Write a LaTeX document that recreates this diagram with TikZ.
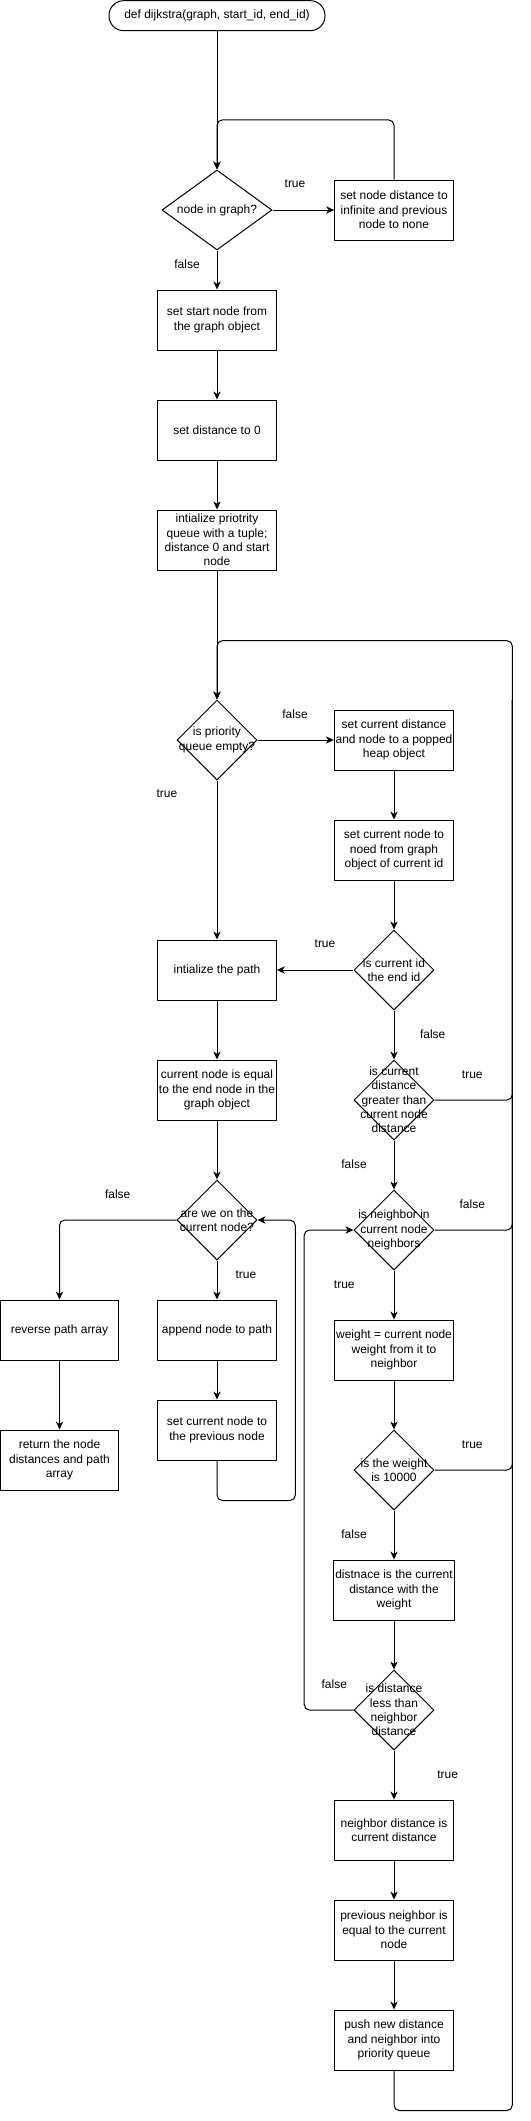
\documentclass[tikz,border=0pt]{standalone}
\usepackage{fontspec}
\setmainfont{Liberation Sans}
\usetikzlibrary{arrows.meta,shapes.geometric,positioning}

\tikzset{
  base/.style={draw=black, line width=0.75pt, font=\fontsize{9}{10.75}\selectfont, align=center, inner sep=1pt},
  process/.style={base, rectangle, minimum width=89pt, minimum height=45pt},
  decision/.style={base, diamond, minimum width=60pt, minimum height=60pt, inner sep=0pt},
  terminal/.style={base, rectangle, rounded corners=11pt, minimum width=162pt, minimum height=22.5pt},
  flow/.style={line width=0.75pt, rounded corners=4pt, -{Stealth[length=6pt,width=5.5pt,inset=1.8pt]}},
  rail/.style={line width=0.75pt, rounded corners=4pt},
  lbl/.style={font=\fontsize{9}{10.75}\selectfont, align=center}
}

\begin{document}
\begin{tikzpicture}[x=0.75pt,y=-0.75pt]
            \path[fill=white] (0,0) rectangle (531,2121);
            \useasboundingbox (0,0) rectangle (531,2121);
            % left column
            \node[terminal] (start) at (217,15.7) {def dijkstra(graph, start\_id, end\_id)};
            \node[decision, minimum width=82.5pt, label={[lbl]center:node in graph?}] (ingraph) at (217,210) {};
            \node[process] (setinf) at (394,210) {set node distance to\\infinite and previous\\node to none};
            \node[process] (startnode) at (217,320) {set start node from\\the graph object};
            \node[process] (dist0) at (217,430) {set distance to 0};
            \node[process] (initpq) at (217,540) {intialize priotrity\\queue with a tuple;\\distance 0 and start\\node};
            \node[decision, label={[lbl]center:{is priority\\queue empty?}}] (pqempty) at (217,740) {};
            \node[process] (initpath) at (217,970) {intialize the path};
            \node[process] (curend) at (217,1090) {current node is equal\\to the end node in the\\graph object};
            \node[decision, label={[lbl]center:{are we on the\\current node?}}] (onnode) at (217,1220) {};
            \node[process] (revpath) at (59.5,1330) {reverse path array};
            \node[process] (append) at (217,1330) {append node to path};
            \node[process] (retnode) at (59.5,1460) {return the node\\distances and path\\array};
            \node[process] (setprev) at (217,1430) {set current node to\\the previous node};
            % right column
            \node[process] (popped) at (394,740) {set current distance\\and node to a popped\\heap object};
            \node[process] (curnode) at (394,850) {set current node to\\noed from graph\\object of current id};
            \node[decision, label={[lbl]center:{is current id\\the end id}}] (isend) at (394,970) {};
            \node[decision, label={[lbl]center:{is current\\distance\\greater than\\current node\\distance}}] (greater) at (394,1100) {};
            \node[decision, label={[lbl]center:{is neighbor in\\current node\\neighbors}}] (neighbor) at (394,1230) {};
            \node[process] (weight) at (394,1350) {weight = current node\\weight from it to\\neighbor};
            \node[decision, label={[lbl]center:{is the weight\\is 10000}}] (w10000) at (394,1470) {};
            \node[process] (distw) at (394,1590) {distnace is the current\\distance with the\\weight};
            \node[decision, label={[lbl]center:{is distance\\less than\\neighbor\\distance}}] (less) at (394,1710) {};
            \node[process] (nbdist) at (394,1830) {neighbor distance is\\current distance};
            \node[process] (prevnb) at (394,1930) {previous neighbor is\\equal to the current\\node};
            \node[process] (push) at (394,2040) {push new distance\\and neighbor into\\priority queue};
            \coordinate (railtop) at (512.3,640.7);
            \coordinate (railjoin) at (512.3,700);
            % branch labels
            \node[lbl] (tIn) at (295,184) {true};
            \node[lbl] (fIn) at (187,264) {false};
            \node[lbl] (fPq) at (295,714) {false};
            \node[lbl] (tPq) at (167,794) {true};
            \node[lbl] (tEnd) at (325,944) {true};
            \node[lbl] (fEnd) at (432.7,1034.3) {false};
            \node[lbl] (tGr) at (472.3,1074.3) {true};
            \node[lbl] (fGr) at (354,1164.3) {false};
            \node[lbl] (fOn) at (117.7,1194.3) {false};
            \node[lbl] (tOn) at (246,1274.3) {true};
            \node[lbl] (fNb) at (472.3,1204.3) {false};
            \node[lbl] (tNb) at (344.3,1284.3) {true};
            \node[lbl] (tW) at (472.3,1444.3) {true};
            \node[lbl] (fW) at (354,1534.3) {false};
            \node[lbl] (fLess) at (334.3,1684.3) {false};
            \node[lbl] (tLess) at (447.7,1774.3) {true};
            % connectors
            \draw[flow] (start) -- (ingraph);
            \draw[flow] (setinf.north) -- ++(0,-59.6) -| (ingraph.north);
            \draw[flow] (ingraph) -- (setinf);
            \draw[flow] (ingraph) -- (startnode);
            \draw[flow] (startnode) -- (dist0);
            \draw[flow] (dist0) -- (initpq);
            \draw[flow] (initpq) -- (pqempty);
            \draw[flow] (pqempty) -- (popped);
            \draw[flow] (popped) -- (curnode);
            \draw[flow] (curnode) -- (isend);
            \draw[flow] (pqempty) -- (initpath);
            \draw[flow] (isend) -- (initpath);
            \draw[flow] (isend) -- (greater);
            \draw[flow] (greater) -- (neighbor);
            \draw[flow] (neighbor) -- (weight);
            \draw[flow] (weight) -- (w10000);
            \draw[flow] (w10000) -- (distw);
            \draw[flow] (distw) -- (less);
            \draw[flow] (less) -- (nbdist);
            \draw[flow] (nbdist) -- (prevnb);
            \draw[flow] (prevnb) -- (push);
            \draw[flow] (initpath) -- (curend);
            \draw[flow] (curend) -- (onnode);
            \draw[flow] (onnode) -- (append);
            \draw[flow] (onnode.west) -| (revpath.north);
            \draw[flow] (revpath) -- (retnode);
            \draw[flow] (append) -- (setprev);
            \draw[flow] (setprev.south) -- ++(0,40) -- ++(78.3,0) |- (onnode.east);
            \draw[flow] (less.west) -- ++(-49.3,0) |- (neighbor.west);
            \draw[flow] (push.south) -- ++(0,40) -| (railtop) -| (pqempty.north);
            \draw[rail] (greater.east) -| (railjoin);
            \draw[rail] (neighbor.east) -| (railjoin);
            \draw[rail] (w10000.east) -| (railjoin);
        \end{tikzpicture}
\end{document}
